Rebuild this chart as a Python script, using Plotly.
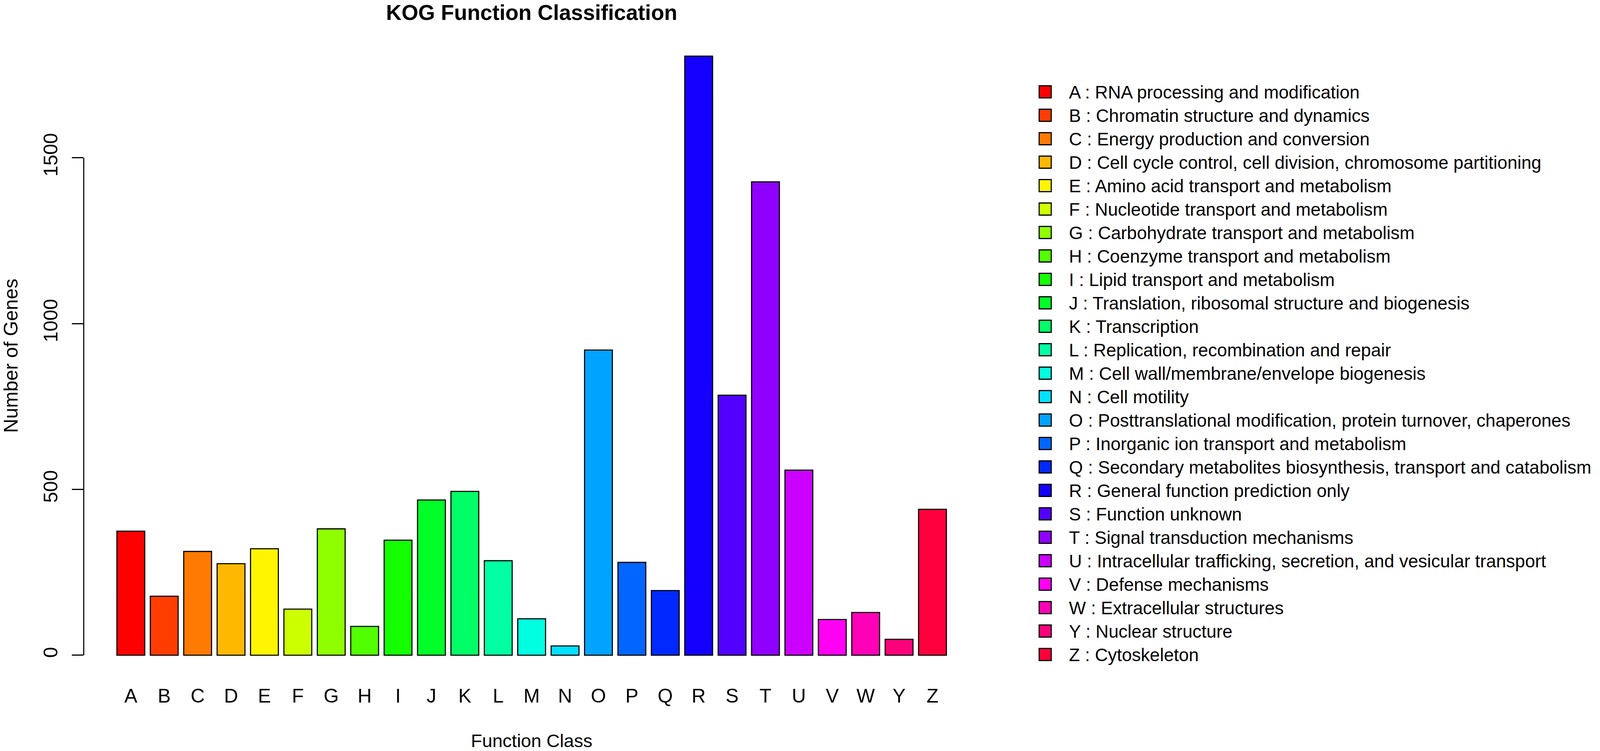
import plotly.graph_objects as go

# ---------------- data ----------------
categories = ["A", "B", "C", "D", "E", "F", "G", "H", "I", "J", "K", "L", "M",
              "N", "O", "P", "Q", "R", "S", "T", "U", "V", "W", "Y", "Z"]
gene_counts = [374, 178, 313, 276, 321, 139, 381, 87, 347, 468, 494, 285, 110,
               28, 920, 280, 195, 1806, 784, 1427, 558, 108, 129, 48, 440]
descriptions = [
    "RNA processing and modification",
    "Chromatin structure and dynamics",
    "Energy production and conversion",
    "Cell cycle control, cell division, chromosome partitioning",
    "Amino acid transport and metabolism",
    "Nucleotide transport and metabolism",
    "Carbohydrate transport and metabolism",
    "Coenzyme transport and metabolism",
    "Lipid transport and metabolism",
    "Translation, ribosomal structure and biogenesis",
    "Transcription",
    "Replication, recombination and repair",
    "Cell wall/membrane/envelope biogenesis",
    "Cell motility",
    "Posttranslational modification, protein turnover, chaperones",
    "Inorganic ion transport and metabolism",
    "Secondary metabolites biosynthesis, transport and catabolism",
    "General function prediction only",
    "Function unknown",
    "Signal transduction mechanisms",
    "Intracellular trafficking, secretion, and vesicular transport",
    "Defense mechanisms",
    "Extracellular structures",
    "Nuclear structure",
    "Cytoskeleton",
]
bar_colors = ["#FF0000", "#FF3D00", "#FF7A00", "#FFB800", "#FFF500", "#CCFF00",
              "#8FFF00", "#52FF00", "#14FF00", "#00FF29", "#00FF66", "#00FFA3",
              "#00FFE0", "#00E0FF", "#00A3FF", "#0066FF", "#0029FF", "#1400FF",
              "#5200FF", "#8F00FF", "#CC00FF", "#FF00F5", "#FF00B8", "#FF007A",
              "#FF003D"]
y_ticks = [0, 500, 1000, 1500]
legend_labels = [f"{c} : {d}" for c, d in zip(categories, descriptions)]

# ---------------- layout constants (pixels) ----------------
# the browser viewport is 4096 px wide, so horizontal positions of the
# 4372 px wide original are scaled by SX
REF_W = 4372
W, H = 4096, 1922
SX = W / REF_W
FONT = "Liberation Sans, Arial, Helvetica, sans-serif"
FS_TICK = 50
FS_XTITLE = 47
FS_YTITLE = 50
FS_LEG = 46
FS_TITLE = 55

plot_left, plot_right = 228.8 * SX, 2676.7 * SX
plot_top, plot_bottom = 82.4, 1738.3
legend_box_x, legend_text_x = 2856 * SX, 2921 * SX
legend_first_row, legend_pitch = 235, 60
text_shift = 0.11 * FS_LEG / legend_pitch   # align text cap centre with box centre

ymax = max(gene_counts)
ypad = 0.04 * ymax

fig = go.Figure()

fig.add_trace(go.Bar(
    x=categories, y=gene_counts,
    marker=dict(color=bar_colors, line=dict(color="black", width=2.8)),
    xaxis="x", yaxis="y", showlegend=False,
    hovertemplate="%{x}: %{y}<extra></extra>",
))

# legend drawn on an auxiliary axis pair (row index -> vertical position)
rows = list(range(len(categories)))
fig.add_trace(go.Scatter(
    x=[legend_box_x] * len(rows), y=rows, mode="markers",
    marker=dict(symbol="square", size=31, color=bar_colors,
                line=dict(color="black", width=2.8)),
    xaxis="x2", yaxis="y2", showlegend=False, hoverinfo="skip",
))
fig.add_trace(go.Scatter(
    x=[legend_text_x] * len(rows), y=[r + text_shift for r in rows], mode="text",
    text=legend_labels, textposition="middle right",
    textfont=dict(family=FONT, size=FS_LEG, color="black"),
    xaxis="x2", yaxis="y2", showlegend=False, hoverinfo="skip",
))

y2_top = -legend_first_row / legend_pitch
y2_bottom = (H - legend_first_row) / legend_pitch

fig.update_layout(
    width=W, height=H,
    margin=dict(l=0, r=0, t=0, b=0),
    paper_bgcolor="white", plot_bgcolor="rgba(0,0,0,0)",
    font=dict(family=FONT, size=FS_TICK, color="black"),
    bargap=1 - 1 / 1.2,
    title=dict(text="<b>KOG Function Classification</b>",
               font=dict(family=FONT, size=FS_TITLE, color="black"),
               x=(plot_left + plot_right) / 2 / W, xanchor="center", xref="container",
               y=1 - 32 / H, yanchor="middle", yref="container"),
    xaxis=dict(
        domain=[plot_left / W, plot_right / W],
        type="category", range=[-1.41, 25.41],
        showline=False, showgrid=False, zeroline=False, ticks="",
        tickfont=dict(family=FONT, size=FS_TICK, color="black"),
        ticklabelstandoff=9,
        title=dict(text="Function Class",
                   font=dict(family=FONT, size=FS_XTITLE, color="black"),
                   standoff=98),
        automargin=False, fixedrange=True,
    ),
    yaxis=dict(
        domain=[1 - plot_bottom / H, 1 - plot_top / H],
        range=[-ypad, ymax + ypad],
        tickvals=y_ticks, ticktext=[str(v) for v in y_ticks],
        ticks="outside", ticklen=29, tickwidth=2.8, tickcolor="black",
        tickangle=-90,
        showline=False, showgrid=False, zeroline=False,
        tickfont=dict(family=FONT, size=FS_TICK, color="black"),
        ticklabelstandoff=17,
        title=dict(text="Number of Genes",
                   font=dict(family=FONT, size=FS_YTITLE, color="black"),
                   standoff=53),
        automargin=False, fixedrange=True,
    ),
    xaxis2=dict(domain=[0, 1], range=[0, W], visible=False, anchor="y2",
                fixedrange=True),
    yaxis2=dict(domain=[0, 1], range=[y2_bottom, y2_top], visible=False, anchor="x2",
                fixedrange=True),
    shapes=[dict(type="line", xref="x domain", yref="y",
                 x0=0, x1=0, y0=min(y_ticks), y1=max(y_ticks),
                 line=dict(color="black", width=2.8))],
)

fig.write_html("out.html",
               config={"displayModeBar": False},
               post_script="document.body.style.margin='0';"
                           "document.body.style.overflow='hidden';")
